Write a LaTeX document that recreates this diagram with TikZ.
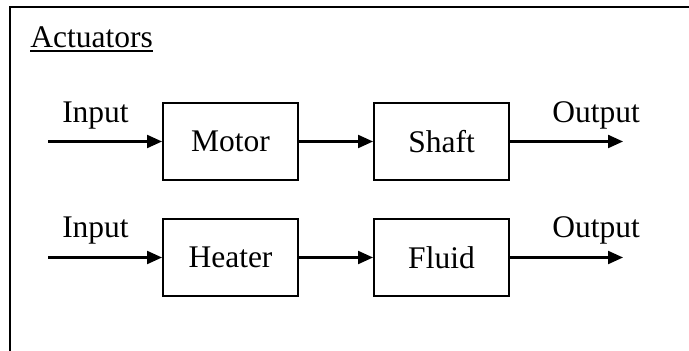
\documentclass[tikz,border=0pt]{standalone}
\usepackage{fontspec}
\setmainfont{Liberation Serif}
\usetikzlibrary{arrows.meta,positioning}

\begin{document}
\begin{tikzpicture}[
    >={Triangle[length=7.5pt,width=6.5pt]},
    font=\fontsize{15.75}{18}\selectfont,
    line cap=butt,
    line join=miter,
    x=0.5pt,
    y=-0.5pt,
    block/.style={
        draw,
        line width=1pt,
        minimum width=67.5pt,
        minimum height=38.5pt,
        inner sep=0pt
    },
    flow/.style={->,line width=1.1pt},
    tag/.style={anchor=base,inner sep=0pt}
]

\useasboundingbox (0,0) rectangle (689,351);

% Rahmen
\draw[line width=1.2pt]
    (10,351)
    --
    (10,7)
    --
    (689,7);

% Titel
\node[anchor=base west,inner sep=0pt] (title) at (30,48)
    {Actuators};

\draw[line width=0.75pt]
    ([yshift=-1.6pt]title.base west)
    --
    ([yshift=-1.6pt]title.base east);

% Reihe 1
\node[block] (motor) at (230.5,141.5)
    {Motor};

\node[block] (shaft) at (441.5,141.5)
    {Shaft};

\coordinate (in1) at (48,141.5);
\coordinate (out1) at (623,141.5);

\draw[flow] (in1) -- (motor.west);
\draw[flow] (motor.east) -- (shaft.west);
\draw[flow] (shaft.east) -- (out1);

\node[tag] (inlabel1) at (95.5,123)
    {Input};

\node[tag] (outlabel1) at (596,123)
    {Output};

% Reihe 2
\node[block] (heater) at (230.5,257.5)
    {Heater};

\node[block] (fluid) at (441.5,257.5)
    {Fluid};

\coordinate (in2) at (48,257.5);
\coordinate (out2) at (623,257.5);

\draw[flow] (in2) -- (heater.west);
\draw[flow] (heater.east) -- (fluid.west);
\draw[flow] (fluid.east) -- (out2);

\node[tag] (inlabel2) at (95.5,238)
    {Input};

\node[tag] (outlabel2) at (596,238)
    {Output};

\end{tikzpicture}
\end{document}
